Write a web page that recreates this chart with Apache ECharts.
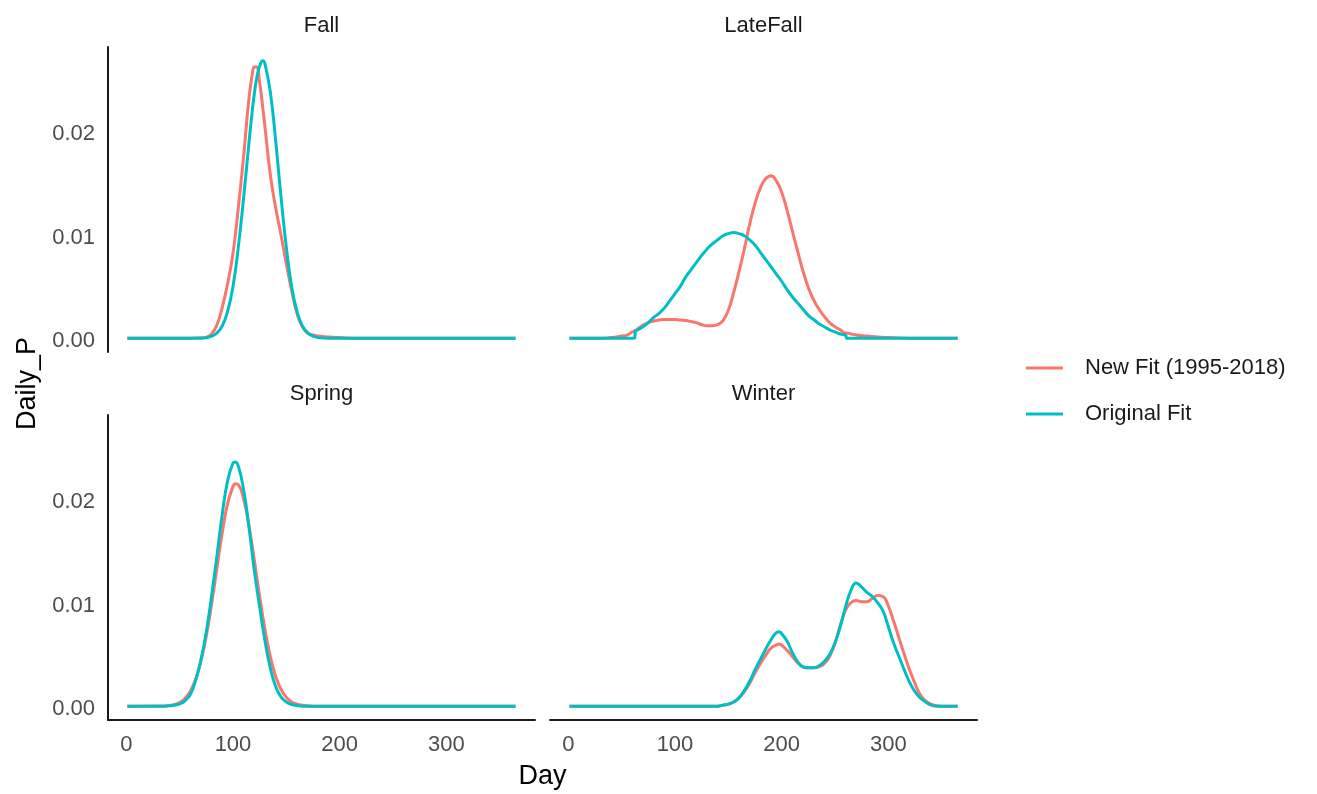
<!DOCTYPE html>
<html>
<head>
<meta charset="utf-8">
<script src="https://cdn.jsdelivr.net/npm/echarts@6/dist/echarts.min.js"></script>
<style>
  html, body { margin: 0; padding: 0; background: #ffffff; }
  #chart { width: 1317px; height: 794px; }
</style>
</head>
<body>
<div id="chart"></div>
<script>
// Daily proportion of passage by season: new fit vs original fit.
const SERIES_NAMES = ['New Fit (1995-2018)', 'Original Fit'];
const PANEL_TITLES = ['Fall', 'LateFall', 'Spring', 'Winter'];
const DAY_TICKS = [0, 100, 200, 300];
const P_TICKS = [0, 0.01, 0.02];

const fallDays = [1, 60, 70, 75, 80, 85, 90, 95, 100, 105, 110, 115, 118, 120, 122, 125, 128, 130, 135, 140, 145, 150, 155, 160, 165, 170, 175, 180, 190, 200, 220, 365];
const fallNew = [0, 0, 0.00003, 0.0001, 0.0004, 0.0013, 0.0030, 0.0053, 0.0082, 0.0126, 0.0176, 0.0232, 0.0254, 0.0262, 0.0262, 0.0247, 0.0222, 0.0204, 0.0158, 0.0126, 0.0100, 0.0072, 0.0046, 0.0024, 0.0011, 0.0005, 0.0003, 0.0002, 0.0001, 0.00005, 0, 0];
const fallOrig = [0, 0, 0, 0.00003, 0.0002, 0.0005, 0.0012, 0.0026, 0.0050, 0.0088, 0.0136, 0.0189, 0.0219, 0.0236, 0.0250, 0.0263, 0.0268, 0.0265, 0.0238, 0.0191, 0.0137, 0.0088, 0.0050, 0.0026, 0.0012, 0.0005, 0.0002, 0.00005, 0, 0, 0, 0];

const lateFallDays = [1, 30, 40, 45, 50, 55, 60, 62, 63, 65, 70, 75, 80, 85, 90, 95, 100, 105, 110, 115, 120, 125, 130, 135, 140, 145, 150, 155, 160, 165, 170, 175, 180, 185, 190, 195, 200, 205, 210, 215, 220, 225, 230, 235, 240, 245, 250, 255, 260, 261, 265, 270, 280, 290, 300, 310, 320, 365];
const lateFallNew = [0, 0, 0.00005, 0.0001, 0.0002, 0.0003, 0.0006, 0.0007, 0.00075, 0.0009, 0.00125, 0.0015, 0.00165, 0.00175, 0.0018, 0.0018, 0.0018, 0.00175, 0.0017, 0.0016, 0.0015, 0.0013, 0.0012, 0.0012, 0.0013, 0.0017, 0.0027, 0.0044, 0.0064, 0.0086, 0.0110, 0.0130, 0.0145, 0.0154, 0.0157, 0.0152, 0.0141, 0.0124, 0.0104, 0.0084, 0.0065, 0.0049, 0.0037, 0.0028, 0.0021, 0.0015, 0.0011, 0.0008, 0.0005, 0.0005, 0.0004, 0.0003, 0.0002, 0.0001, 0.00005, 0.00002, 0, 0];
const lateFallOrig = [0, 0, 0, 0, 0, 0, 0, 0, 0.00068, 0.0008, 0.0011, 0.0015, 0.0020, 0.0024, 0.0029, 0.0036, 0.0043, 0.0050, 0.0059, 0.0066, 0.0073, 0.0080, 0.0086, 0.0091, 0.0095, 0.0099, 0.0101, 0.0102, 0.0101, 0.0099, 0.0095, 0.0090, 0.0083, 0.0076, 0.0069, 0.0062, 0.0055, 0.0047, 0.0040, 0.0034, 0.0028, 0.0022, 0.0018, 0.0014, 0.0011, 0.0008, 0.0006, 0.0004, 0.0003, 0, 0, 0, 0, 0, 0, 0, 0, 0];

const springDays = [1, 35, 40, 45, 50, 55, 60, 65, 70, 75, 80, 85, 90, 95, 100, 102, 105, 110, 115, 120, 125, 130, 135, 140, 145, 150, 155, 160, 165, 170, 180, 365];
const springNew = [0, 0.00001, 0.00007, 0.00016, 0.00035, 0.00074, 0.00144, 0.0026, 0.0044, 0.0068, 0.0099, 0.0134, 0.0168, 0.0196, 0.0212, 0.0215, 0.0214, 0.0200, 0.0174, 0.0141, 0.0106, 0.0074, 0.0048, 0.0029, 0.00163, 0.00085, 0.00041, 0.00019, 0.00008, 0.00003, 0, 0];
const springOrig = [0, 0, 0.00003, 0.00008, 0.00022, 0.00052, 0.00113, 0.0025, 0.0045, 0.0072, 0.0107, 0.0146, 0.0186, 0.0218, 0.0235, 0.0236, 0.0232, 0.0209, 0.0173, 0.0131, 0.0096, 0.0063, 0.0037, 0.0019, 0.0009, 0.0004, 0.00016, 0.00006, 0, 0, 0, 0];

const winterDays = [1, 140, 145, 150, 155, 160, 165, 170, 175, 180, 185, 190, 195, 198, 200, 205, 210, 215, 220, 225, 230, 235, 240, 245, 250, 255, 260, 265, 270, 275, 280, 285, 290, 295, 300, 305, 310, 315, 320, 325, 330, 335, 340, 345, 350, 365];
const winterNew = [0, 0, 0.0001, 0.0002, 0.0004, 0.0008, 0.0014, 0.0022, 0.0032, 0.0041, 0.0049, 0.0056, 0.0059, 0.0060, 0.0059, 0.0054, 0.0048, 0.0042, 0.0038, 0.0037, 0.0037, 0.0038, 0.0041, 0.0048, 0.0061, 0.0078, 0.0093, 0.0100, 0.0102, 0.0101, 0.0101, 0.0104, 0.0107, 0.0106, 0.0097, 0.0082, 0.0066, 0.0050, 0.0035, 0.0022, 0.0011, 0.0005, 0.0002, 0.00005, 0, 0];
const winterOrig = [0, 0, 0.0001, 0.0002, 0.0004, 0.0008, 0.0015, 0.0024, 0.0035, 0.0045, 0.0055, 0.0064, 0.0071, 0.0072, 0.0070, 0.0063, 0.0052, 0.0043, 0.0038, 0.0037, 0.0037, 0.0039, 0.0043, 0.0050, 0.0061, 0.0077, 0.0096, 0.0112, 0.0119, 0.0115, 0.0110, 0.0106, 0.0100, 0.0092, 0.0077, 0.0061, 0.0048, 0.0035, 0.0023, 0.0014, 0.0008, 0.0004, 0.0001, 0, 0, 0];

const panels = [
  { days: fallDays, newFit: fallNew, origFit: fallOrig },
  { days: lateFallDays, newFit: lateFallNew, origFit: lateFallOrig },
  { days: springDays, newFit: springNew, origFit: springOrig },
  { days: winterDays, newFit: winterNew, origFit: winterOrig }
];

const COLORS = ['#F8766D', '#00BFC4'];
const FONT = '"Liberation Sans", Arial, sans-serif';

// Shared scales with 5% padding on each side, as in a faceted plot.
const allDays = panels.flatMap(p => p.days);
const dMin = Math.min(...allDays), dMax = Math.max(...allDays);
const dPad = 0.05 * (dMax - dMin);
const pMax = Math.max(...panels.flatMap(p => p.newFit.concat(p.origFit)));
const pPad = 0.05 * pMax;

// Facet layout: two columns, two rows.
const COL_LEFT = [108, 550];
const ROW_TOP = [47, 415];
const PANEL_W = 427, PANEL_H = 305;

const grids = [], xAxes = [], yAxes = [], series = [], graphics = [];
panels.forEach((p, i) => {
  const col = i % 2, row = Math.floor(i / 2);
  grids.push({ left: COL_LEFT[col], top: ROW_TOP[row], width: PANEL_W, height: PANEL_H, containLabel: false });
  xAxes.push({
    gridIndex: i, type: 'value', min: dMin - dPad, max: dMax + dPad,
    axisLine: { show: row === 1, onZero: false, lineStyle: { color: '#1a1a1a', width: 2 } },
    axisTick: { show: false }, splitLine: { show: false },
    axisLabel: {
      show: row === 1, customValues: DAY_TICKS, margin: 14,
      color: '#4d4d4d', fontSize: 22, fontFamily: FONT
    }
  });
  yAxes.push({
    gridIndex: i, type: 'value', min: -pPad, max: pMax + pPad,
    axisLine: { show: col === 0, onZero: false, lineStyle: { color: '#1a1a1a', width: 2 } },
    axisTick: { show: false }, splitLine: { show: false },
    axisLabel: {
      show: col === 0, customValues: P_TICKS, margin: 13,
      verticalAlign: 'top', lineHeight: 6,
      formatter: v => v.toFixed(2),
      color: '#4d4d4d', fontSize: 22, fontFamily: FONT
    }
  });
  [p.newFit, p.origFit].forEach((vals, k) => {
    series.push({
      name: SERIES_NAMES[k], type: 'line', xAxisIndex: i, yAxisIndex: i,
      data: p.days.map((d, j) => [d, vals[j]]),
      showSymbol: false, symbol: 'none', smooth: 0.5,
      lineStyle: { color: COLORS[k], width: 3 },
      itemStyle: { color: COLORS[k] },
      z: 2 + k, silent: true
    });
  });
  graphics.push({
    type: 'text', x: COL_LEFT[col] + PANEL_W / 2, y: ROW_TOP[row] - 21,
    style: {
      text: PANEL_TITLES[i], fill: '#1a1a1a', font: '22px ' + FONT,
      textAlign: 'center', textVerticalAlign: 'middle', align: 'center', verticalAlign: 'middle'
    }
  });
});

// Axis titles
graphics.push({
  type: 'text', x: (COL_LEFT[0] + COL_LEFT[1] + PANEL_W) / 2, y: 777,
  style: { text: 'Day', fill: '#000', font: '27px ' + FONT,
    textAlign: 'center', textVerticalAlign: 'middle', align: 'center', verticalAlign: 'middle' }
});
graphics.push({
  type: 'text', x: 28, y: (ROW_TOP[0] + ROW_TOP[1] + PANEL_H) / 2, rotation: Math.PI / 2,
  style: { text: 'Daily_P', fill: '#000', font: '27px ' + FONT,
    textAlign: 'center', textVerticalAlign: 'middle', align: 'center', verticalAlign: 'middle' }
});

const chart = echarts.init(document.getElementById('chart'), null, { renderer: 'canvas' });
chart.setOption({
  animation: false,
  backgroundColor: '#ffffff',
  grid: grids,
  xAxis: xAxes,
  yAxis: yAxes,
  series: series,
  legend: {
    data: SERIES_NAMES, orient: 'vertical', left: 1026, top: 355, padding: 0,
    icon: 'rect', itemWidth: 37, itemHeight: 3, itemGap: 20,
    selectedMode: false,
    textStyle: { fontSize: 22, fontFamily: FONT, color: '#1a1a1a', lineHeight: 26, padding: [0, 0, 0, 17] }
  },
  graphic: graphics
});
</script>
</body>
</html>
